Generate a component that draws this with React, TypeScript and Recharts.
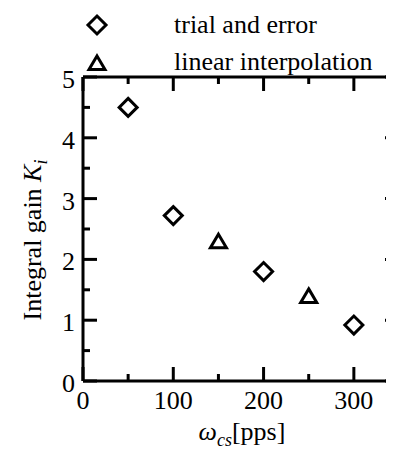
import React from 'react'
import { ScatterChart, Scatter, XAxis, YAxis } from 'recharts'

// omega_cs [pps] vs integral gain Ki
const trialX = [50, 100, 200, 300]
const trialKi = [4.5, 2.72, 1.8, 0.92]
const interpX = [150, 250]
const interpKi = [2.3, 1.4]
const seriesNames = ['trial and error', 'linear interpolation']
const xTicks = [0, 50, 100, 150, 200, 250, 300, 350]
const yTicks = [0, 0.5, 1, 1.5, 2, 2.5, 3, 3.5, 4, 4.5, 5]

const trialData = trialX.map((x, i) => ({ x, y: trialKi[i] }))
const interpData = interpX.map((x, i) => ({ x, y: interpKi[i] }))

const SW = 3
const FONT = 'Times New Roman'

const T = ({ children, ...rest }: any) => (
  <text fontFamily={FONT} fontSize={26} fill="#000" {...rest}>{children}</text>
)

const Diamond = ({ cx, cy }: any) => (
  <path d={`M${cx},${cy - 9} L${cx + 9},${cy} L${cx},${cy + 9} L${cx - 9},${cy} Z`}
    fill="none" stroke="#000" strokeWidth={SW} strokeLinejoin="miter" />
)

const Triangle = ({ cx, cy }: any) => (
  <path d={`M${cx},${cy - 7} L${cx + 8},${cy + 6.5} L${cx - 8},${cy + 6.5} Z`}
    fill="none" stroke="#000" strokeWidth={SW} strokeLinejoin="miter" />
)

const BottomTick = ({ x, y, payload }: any) => {
  const v = payload.value
  const major = v % 100 === 0
  return (
    <g>
      <line x1={x} x2={x} y1={y} y2={y - (major ? 14 : 7)} stroke="#000" strokeWidth={SW} />
      {major && v < 350 && <T x={x} y={y + 28} textAnchor="middle">{v}</T>}
    </g>
  )
}

const TopTick = ({ x, y, payload }: any) => {
  const major = payload.value % 100 === 0
  return <line x1={x} x2={x} y1={y} y2={y + (major ? 14 : 7)} stroke="#000" strokeWidth={SW} />
}

const LeftTick = ({ x, y, payload }: any) => {
  const v = payload.value
  const major = Number.isInteger(v)
  return (
    <g>
      <line x1={x} x2={x + (major ? 14 : 7)} y1={y} y2={y} stroke="#000" strokeWidth={SW} />
      {major && <T x={x - 8} y={y + 11} textAnchor="end">{v}</T>}
    </g>
  )
}

const RightTick = ({ x, y, payload }: any) => {
  const major = Number.isInteger(payload.value)
  return <line x1={x} x2={x - (major ? 14 : 7)} y1={y} y2={y} stroke="#000" strokeWidth={SW} />
}

export default function App() {
  return (
    <div style={{ position: 'relative', width: 386, height: 442, overflow: 'hidden' }}>
      <ScatterChart width={412} height={442} margin={{ top: 68, right: 20, left: 0, bottom: 0 }}>
        <XAxis xAxisId="bottom" type="number" dataKey="x" domain={[0, 350]} ticks={xTicks} height={69}
          axisLine={{ stroke: '#000', strokeWidth: SW }} tickLine={false} tickSize={0} tickMargin={0}
          tick={<BottomTick />} interval={0} allowDataOverflow />
        <XAxis xAxisId="top" orientation="top" type="number" dataKey="x" domain={[0, 350]} ticks={xTicks} height={1}
          axisLine={{ stroke: '#000', strokeWidth: SW }} tickLine={false} tickSize={0} tickMargin={0}
          tick={<TopTick />} interval={0} allowDataOverflow />
        <YAxis yAxisId="left" type="number" dataKey="y" domain={[0, 5]} ticks={yTicks} width={75}
          axisLine={{ stroke: '#000', strokeWidth: SW }} tickLine={false} tickSize={0} tickMargin={0}
          tick={<LeftTick />} interval={0} allowDataOverflow />
        <YAxis yAxisId="right" orientation="right" type="number" dataKey="y" domain={[0, 5]} ticks={yTicks} width={1}
          axisLine={{ stroke: '#000', strokeWidth: SW }} tickLine={false} tickSize={0} tickMargin={0}
          tick={<RightTick />} interval={0} allowDataOverflow />
        <Scatter name={seriesNames[0]} data={trialData} xAxisId="bottom" yAxisId="left"
          shape={<Diamond />} isAnimationActive={false} />
        <Scatter name={seriesNames[1]} data={interpData} xAxisId="top" yAxisId="right"
          shape={<Triangle />} isAnimationActive={false} />
      </ScatterChart>
      <svg width={386} height={442} style={{ position: 'absolute', left: 0, top: 0, pointerEvents: 'none' }}>
        <Diamond cx={89} cy={17} />
        <T x={166} y={25}>{seriesNames[0]}</T>
        <Triangle cx={89} cy={55} />
        <T x={166} y={62}>{seriesNames[1]}</T>
        <T transform="translate(33,232) rotate(-90)" textAnchor="middle">
          Integral gain <tspan fontStyle="italic">K</tspan><tspan fontStyle="italic" fontSize={18} dy={6}>i</tspan>
        </T>
        <T x={234} y={432} textAnchor="middle">
          <tspan fontStyle="italic">ω</tspan><tspan fontStyle="italic" fontSize={18} dy={6}>cs</tspan><tspan dy={-6}>[pps]</tspan>
        </T>
      </svg>
    </div>
  )
}
